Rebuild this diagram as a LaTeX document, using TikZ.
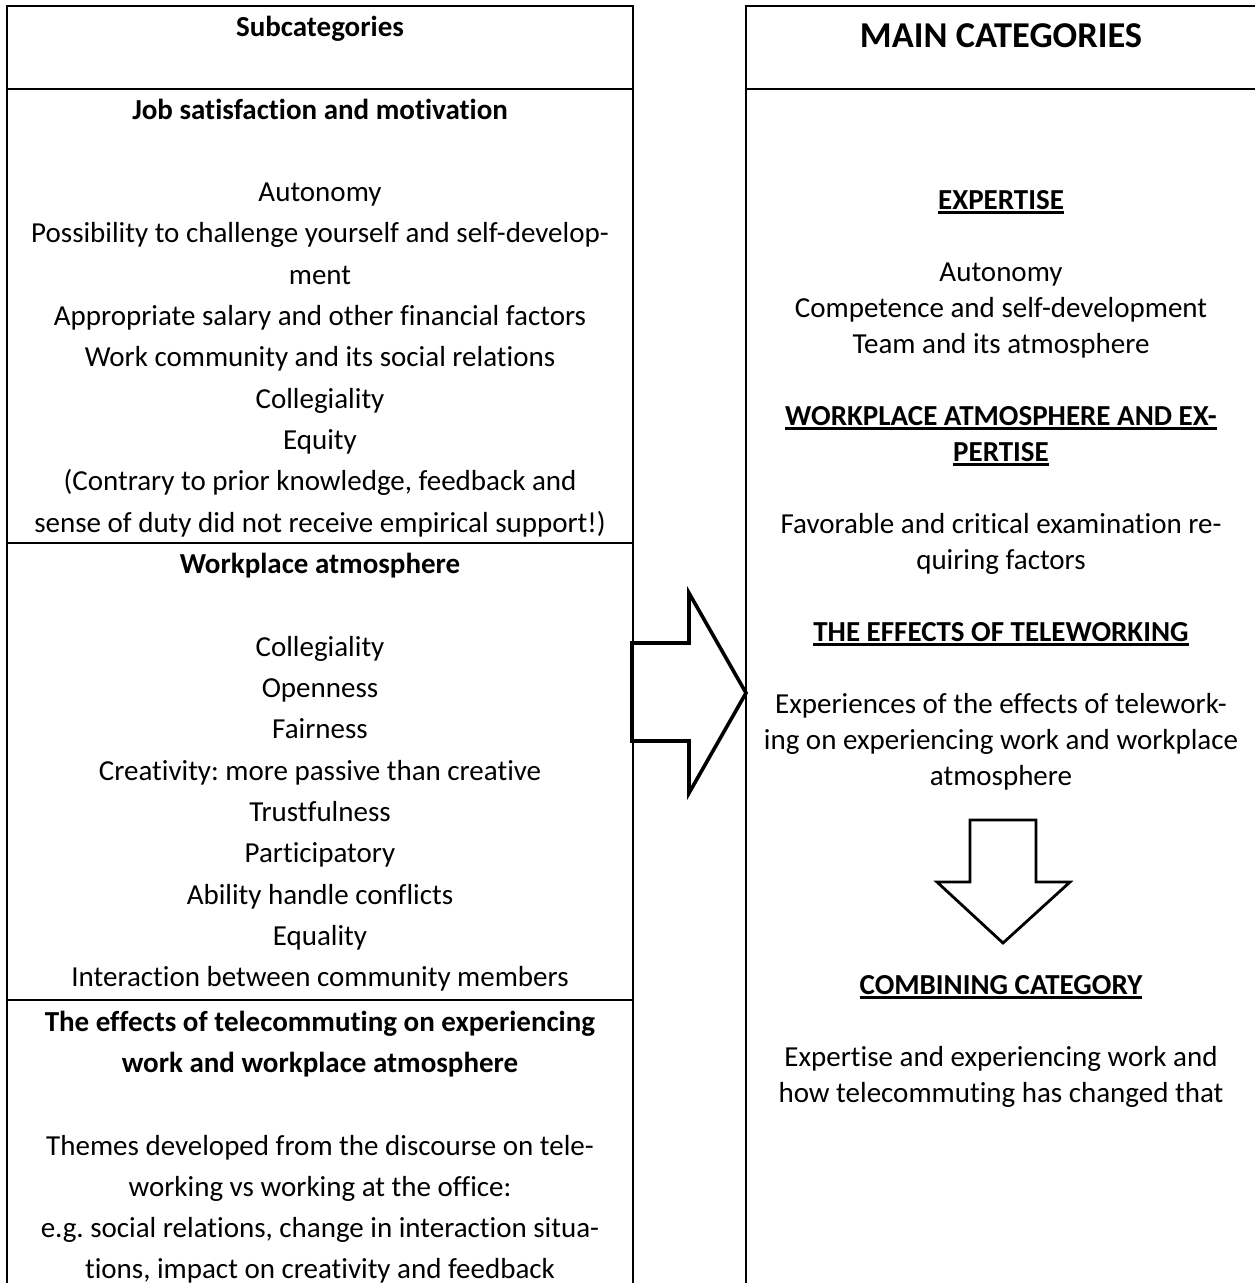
\documentclass[tikz,border=0pt]{standalone}
\usepackage{fontspec}
\setmainfont{Carlito}[Ligatures={NoCommon}]
\frenchspacing
% underline drawn as a rule of fixed depth and thickness
\newcommand\ulbar[1]{\setbox0\hbox{#1}\rlap{\rule[-4.5pt]{\wd0}{2.2pt}}\box0}
\begin{document}
\begin{tikzpicture}[x=1pt,y=-1pt,
  body/.style={anchor=base, inner sep=0pt, font=\fontsize{29}{36}\selectfont},
  head/.style={anchor=base, inner sep=0pt, font=\fontsize{29}{36}\selectfont\bfseries},
  title/.style={anchor=base, inner sep=0pt, font=\fontsize{36.4}{44}\selectfont\bfseries},
  frame/.style={line width=2.4pt},
  bigarrow/.style={line width=3.6pt, fill=white, line join=miter},
  downarrow/.style={line width=2.8pt, fill=white, line join=miter}]
\useasboundingbox (0,0) rectangle (1254,1283);

% ---- left column: subcategories table ----
\draw[frame] (7,1283) -- (7,6) -- (633,6) -- (633,1283);
\draw[frame] (7,89) -- (633,89);
\draw[frame] (7,543) -- (633,543);
\draw[frame] (7,1000) -- (633,1000);

\node[head] (sc)  at (320,36)  {Subcategories};
\node[head] (js)  at (320,119) {Job satisfaction and motivation};
\node[body] (j1)  at (320,201) {Autonomy};
\node[body] (j2)  at (320,242) {Possibility to challenge yourself and self-develop-};
\node[body] (j2b) at (320,284) {ment};
\node[body] (j3)  at (320,325) {Appropriate salary and other financial factors};
\node[body] (j4)  at (320,366) {Work community and its social relations};
\node[body] (j5)  at (320,408) {Collegiality};
\node[body] (j6)  at (320,449) {Equity};
\node[body] (j7)  at (320,490) {(Contrary to prior knowledge, feedback and};
\node[body] (j7b) at (320,532) {sense of duty did not receive empirical support!)};

\node[head] (wa)  at (320,573) {Workplace atmosphere};
\node[body] (w1)  at (320,656) {Collegiality};
\node[body] (w2)  at (320,697) {Openness};
\node[body] (w3)  at (320,738) {Fairness};
\node[body] (w4)  at (320,780) {Creativity: more passive than creative};
\node[body] (w5)  at (320,821) {Trustfulness};
\node[body] (w6)  at (320,862) {Participatory};
\node[body] (w7)  at (320,904) {Ability handle conflicts};
\node[body] (w8)  at (320,945) {Equality};
\node[body] (w9)  at (320,986) {Interaction between community members};

\node[head] (te)  at (320,1031) {The effects of telecommuting on experiencing};
\node[head] (teb) at (320,1072) {work and workplace atmosphere};
\node[body] (t1)  at (320,1155) {Themes developed from the discourse on tele-};
\node[body] (t1b) at (320,1196) {working vs working at the office:};
\node[body] (t2)  at (320,1237) {e.g. social relations, change in interaction situa-};
\node[body] (t2b) at (320,1278) {tions, impact on creativity and feedback};

% ---- right column: main categories ----
\draw[frame] (746,1283) -- (746,6) -- (1258,6);
\draw[frame] (746,89) -- (1258,89);

\node[title] (mc) at (1001,47) {MAIN CATEGORIES};

\node[head] (ex)  at (1001,209) {\ulbar{EXPERTISE}};
\node[body] (e1)  at (1001,281) {Autonomy};
\node[body] (e2)  at (1001,317) {Competence and self-development};
\node[body] (e3)  at (1001,353) {Team and its atmosphere};

\node[head] (wx)  at (1001,425) {\ulbar{WORKPLACE ATMOSPHERE AND EX-}};
\node[head] (wxb) at (1001,461) {\ulbar{PERTISE}};
\node[body] (f1)  at (1001,533) {Favorable and critical examination re-};
\node[body] (f1b) at (1001,569) {quiring factors};

\node[head] (et)  at (1001,641) {\ulbar{THE EFFECTS OF TELEWORKING}};
\node[body] (x1)  at (1001,713) {Experiences of the effects of telework-};
\node[body] (x1b) at (1001,749) {ing on experiencing work and workplace};
\node[body] (x1c) at (1001,785) {atmosphere};

\node[head] (cc)  at (1001,994) {\ulbar{COMBINING CATEGORY}};
\node[body] (c1)  at (1001,1066) {Expertise and experiencing work and};
\node[body] (c1b) at (1001,1102) {how telecommuting has changed that};

% ---- block arrows ----
\draw[bigarrow] (632,643) -- (689,643) -- (689,593) -- (746,693)
  -- (689,793) -- (689,741) -- (632,741) -- cycle;
\draw[downarrow] (970,820) -- (1036,820) -- (1036,882) -- (1070,882)
  -- (1003,943) -- (937,882) -- (970,882) -- cycle;
\end{tikzpicture}
\end{document}
